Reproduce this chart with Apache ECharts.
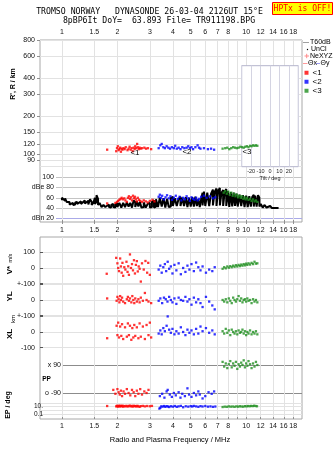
<!DOCTYPE html>
<html>
<head>
<meta charset="utf-8">
<script src="https://cdn.jsdelivr.net/npm/echarts@6/dist/echarts.min.js"></script>
<style>
html,body{margin:0;padding:0;background:#fff;}
#chart{width:335px;height:451px;}
</style>
</head>
<body>
<div id="chart"></div>
<script>
// ---- axis ticks ----
const freqTicks = [1, 1.5, 2, 3, 4, 5, 6, 7, 8, 9, 10, 12, 14, 16, 18];
const freqLabelsOuter = [1, 1.5, 2, 3, 4, 5, 6, 7, 8, 10, 12, 14, 16, 18];
const freqLabelsMid = [1, 1.5, 2, 3, 4, 5, 6, 7, 8, 9, 10, 12, 14, 16, 18];
const rangeTicks = [80, 90, 100, 120, 150, 200, 300, 400, 600, 800];
const tiltLabels = [-20, -10, 0, 10, 20];

// ---- virtual range R' (km) per mode ----
const range1 = [[1.76,109],[1.97,106],[1.99,112],[2.01,116],[2.03,108],[2.05,110],[2.07,113],[2.09,105],[2.11,111],[2.13,109],[2.16,112],[2.19,110],[2.22,114],[2.27,108],[2.30,111],[2.33,115],[2.36,109],[2.39,112],[2.42,106],[2.45,113],[2.48,110],[2.50,116],[2.53,112],[2.56,121],[2.58,114],[2.61,110],[2.64,113],[2.67,111],[2.72,112],[2.80,113],[2.86,111],[2.93,112],[3.05,110]];
const range2 = [[3.35,112],[3.42,118],[3.48,121],[3.55,114],[3.62,112],[3.70,116],[3.78,113],[3.86,111],[3.95,114],[4.05,112],[4.12,117],[4.20,111],[4.30,113],[4.40,110],[4.50,114],[4.62,112],[4.75,113],[4.85,116],[4.95,112],[5.05,114],[5.15,110],[5.30,114],[5.45,118],[5.55,113],[5.65,111],[5.90,112],[6.20,110],[6.45,111],[6.70,109]];
const range3 = [[7.45,111],[7.70,112],[7.90,113],[8.10,110],[8.30,112],[8.50,114],[8.70,113],[8.90,112],[9.10,113],[9.30,115],[9.50,114],[9.70,113],[9.90,115],[10.1,116],[10.3,114],[10.5,117],[10.7,116],[10.9,118],[11.1,117],[11.3,118],[11.5,117]];

// ---- echo amplitude (dB): [f, low, high] envelope of all echoes ----
const ampTrace = [[1.00,55,60],[1.02,57,61],[1.04,54,59],[1.06,52,57],[1.08,50,55],[1.10,47,52],[1.12,45,48],
 [1.15,46,50],[1.18,47,51],[1.21,48,52],[1.24,47,50],[1.27,48,53],[1.30,47,51],[1.33,49,55],[1.36,48,52],[1.39,47,54],[1.42,50,57],[1.45,46,52],[1.48,45,50],
 [1.51,48,60],[1.54,52,65],[1.57,46,58],[1.60,43,50],
 [1.64,42,47],[1.68,41,46],[1.72,42,48],[1.76,41,45],[1.80,42,47],[1.85,41,46],[1.90,42,48],[1.95,41,47],[2.00,42,49],
 [2.05,42,50],[2.10,41,52],[2.15,43,50],[2.20,42,53],[2.25,41,51],[2.30,43,54],[2.35,42,50],[2.40,41,52],[2.45,43,55],[2.50,42,51],[2.55,41,53],[2.60,43,50],[2.65,42,52],[2.70,41,49],[2.78,42,51],[2.85,41,50],[2.92,42,48],[3.00,41,50],
 [3.08,42,52],[3.16,41,55],[3.24,43,57],[3.32,42,58],[3.40,41,60],[3.48,43,57],[3.56,42,59],[3.64,41,56],[3.72,43,58],[3.80,42,57],
 [3.90,43,60],[4.00,44,62],[4.10,43,59],[4.20,44,61],[4.30,42,58],[4.40,44,62],[4.50,43,60],[4.60,44,59],[4.70,43,61],[4.80,42,63],[4.90,44,60],[5.00,43,58],[5.10,44,61],[5.20,43,59],[5.30,42,62],[5.40,44,60],[5.50,43,57],[5.60,42,59],[5.70,43,58],
 [5.80,45,70],[5.90,46,72],[6.00,44,75],
 [6.15,43,70],[6.30,44,73],[6.45,42,68],[6.60,45,76],[6.75,43,72],[6.90,44,78],[7.05,42,74],[7.20,45,79],[7.35,43,70],[7.50,44,75],[7.65,42,72],[7.80,44,77],[7.95,43,73],[8.10,42,76],[8.25,44,71],[8.40,43,74],[8.55,42,70],[8.70,44,72],[8.85,43,68],
 [9.00,43,70],[9.20,42,66],[9.40,44,68],[9.60,43,65],[9.80,42,67],[10.0,43,64],[10.2,42,66],[10.4,44,63],[10.6,43,65],[10.8,42,62],[11.0,43,66],[11.2,42,64],[11.4,43,62],[11.6,42,65],[11.8,43,60],
 [12.0,42,48],[12.3,41,45],[12.6,40,46],[12.9,41,43],[13.2,40,43],[13.5,41,44],[13.8,40,42],[14.1,40,43],[14.4,40,42],[14.7,40,42],[15.0,40,41]];
const amp1 = [[1.76,49],[1.95,50],[1.99,52],[2.02,54],[2.05,56],[2.08,58],[2.11,60],[2.14,57],[2.18,59],[2.21,55],[2.25,52],[2.28,60],[2.31,63],[2.34,58],[2.37,61],[2.40,55],[2.43,64],[2.46,59],[2.49,62],[2.52,57],[2.55,53],[2.58,60],[2.62,56],[2.66,54],[2.72,52],[2.78,55],[2.85,53],[2.92,51],[3.00,54],[3.10,56],[3.18,53]];
const amp2 = [[3.35,62],[3.40,66],[3.45,60],[3.50,64],[3.58,57],[3.65,61],[3.72,65],[3.80,59],[3.88,63],[3.96,56],[4.05,60],[4.15,64],[4.25,58],[4.35,62],[4.45,55],[4.55,60],[4.65,57],[4.75,63],[4.85,59],[4.95,54],[5.05,61],[5.15,58],[5.25,56],[5.35,60],[5.45,55],[5.55,58],[5.70,62],[5.90,64],[6.10,60],[6.35,63],[6.60,59],[6.80,61]];
const amp3 = [[7.55,70],[7.70,73],[7.85,68],[8.00,72],[8.15,66],[8.30,70],[8.45,64],[8.60,68],[8.75,63],[8.90,66],[9.05,61],[9.20,64],[9.35,60],[9.50,63],[9.65,58],[9.80,61],[9.95,57],[10.1,60],[10.3,56],[10.5,58],[10.7,54],[10.9,57],[11.1,53],[11.3,55],[11.5,52]];

// ---- Doppler velocity V* (m/s) ----
const vel1 = [[1.75,-37],[1.97,65],[2.00,30],[2.02,0],[2.04,-20],[2.07,61],[2.09,10],[2.11,-30],[2.13,33],[2.15,-50],[2.18,5],[2.21,-10],[2.24,40],[2.27,-25],[2.29,11],[2.31,-44],[2.34,87],[2.37,0],[2.40,25],[2.43,-15],[2.46,50],[2.49,-35],[2.52,20],[2.55,44],[2.58,-22],[2.61,10],[2.64,-5],[2.68,-87],[2.72,30],[2.78,-10],[2.84,45],[2.90,-30],[2.94,33],[3.00,-44]];
const vel2 = [[3.35,-10],[3.42,15],[3.48,-30],[3.55,5],[3.62,25],[3.68,-20],[3.75,40],[3.82,-5],[3.90,10],[3.98,-35],[4.08,20],[4.18,-15],[4.30,30],[4.42,-40],[4.55,0],[4.68,-25],[4.80,15],[4.92,-10],[5.05,25],[5.20,-20],[5.35,35],[5.50,5],[5.65,-15],[5.80,10],[6.05,-30],[6.30,-10],[6.55,-20],[6.75,5]];
const vel3 = [[7.45,-5],[7.60,5],[7.75,-2],[7.90,10],[8.05,2],[8.20,12],[8.35,5],[8.50,15],[8.65,8],[8.80,18],[8.95,10],[9.10,20],[9.25,12],[9.40,22],[9.55,15],[9.70,25],[9.85,17],[10.0,28],[10.15,20],[10.3,30],[10.5,22],[10.7,33],[10.9,25],[11.1,40],[11.3,28],[11.5,30]];

// ---- echo location YL, XL (km) ----
const yl1 = [[1.76,10],[1.98,-5],[2.00,20],[2.03,5],[2.05,-15],[2.07,25],[2.09,0],[2.12,15],[2.15,-10],[2.20,-20],[2.25,5],[2.28,20],[2.31,-5],[2.34,10],[2.38,-15],[2.41,25],[2.44,0],[2.47,-20],[2.50,10],[2.55,-10],[2.60,5],[2.64,-15],[2.68,15],[2.75,-5],[2.82,45],[2.88,0],[2.95,-10],[3.05,-20]];
const yl2 = [[3.35,-5],[3.42,10],[3.50,-20],[3.58,15],[3.66,5],[3.74,-10],[3.82,20],[3.90,0],[3.98,-15],[4.08,10],[4.18,-25],[4.30,15],[4.42,0],[4.55,-5],[4.68,20],[4.80,-10],[4.92,5],[5.05,-30],[5.20,15],[5.35,-15],[5.50,5],[5.65,-20],[5.80,-45],[6.05,20],[6.30,-10],[6.55,-35],[6.75,-60]];
const yl3 = [[7.45,0],[7.60,-10],[7.75,5],[7.90,-15],[8.05,10],[8.20,-5],[8.35,-20],[8.50,15],[8.65,0],[8.80,-10],[8.95,5],[9.10,25],[9.25,-5],[9.40,10],[9.55,-15],[9.70,0],[9.85,5],[10.0,-10],[10.15,10],[10.3,-5],[10.5,0],[10.7,-20],[10.9,5],[11.1,-10],[11.3,0],[11.5,-15]];
const xl1 = [[1.76,-40],[1.98,40],[2.00,-20],[2.02,60],[2.04,-35],[2.07,35],[2.10,-25],[2.12,50],[2.15,-45],[2.20,30],[2.25,-30],[2.28,55],[2.31,-20],[2.34,40],[2.38,-50],[2.41,25],[2.44,-35],[2.47,45],[2.50,-25],[2.55,30],[2.60,-40],[2.64,55],[2.68,-30],[2.75,35],[2.82,-45],[2.88,45],[2.95,-20],[3.00,60],[3.05,-35]];
const xl2 = [[3.35,-10],[3.42,10],[3.48,-15],[3.55,25],[3.62,5],[3.70,40],[3.75,100],[3.82,15],[3.90,-5],[3.98,20],[4.08,-15],[4.18,5],[4.30,-10],[4.42,30],[4.55,0],[4.68,-20],[4.80,15],[4.92,-5],[5.05,10],[5.20,-15],[5.35,20],[5.50,-10],[5.65,35],[5.80,5],[6.05,25],[6.30,-5],[6.55,10],[6.75,-15]];
const xl3 = [[7.45,5],[7.60,-10],[7.75,20],[7.90,-5],[8.05,10],[8.20,-20],[8.35,15],[8.50,0],[8.65,-10],[8.80,5],[8.95,-15],[9.10,10],[9.25,-5],[9.40,0],[9.55,15],[9.70,-10],[9.85,5],[10.0,-20],[10.15,0],[10.3,-10],[10.5,10],[10.7,-15],[10.9,0],[11.1,-10],[11.3,5],[11.5,-15]];

// ---- polarization PP (deg) ----
const pp1 = [[1.90,-70],[1.95,-95],[2.00,-65],[2.03,-85],[2.06,-100],[2.09,-75],[2.12,-110],[2.16,-80],[2.20,-95],[2.25,-65],[2.30,-90],[2.35,-105],[2.40,-70],[2.45,-85],[2.50,-110],[2.55,-75],[2.60,-95],[2.66,-65],[2.72,-100],[2.80,-80],[2.88,-90],[2.95,-70]];
const pp2 = [[3.40,-110],[3.50,-95],[3.60,-120],[3.70,-80],[3.75,-70],[3.85,-100],[3.95,-115],[4.05,-90],[4.15,-105],[4.30,-85],[4.40,-120],[4.50,-95],[4.65,-110],[4.80,-60],[4.90,-100],[5.05,-115],[5.20,-90],[5.35,-105],[5.50,-80],[5.60,-100],[5.80,-125],[6.00,-110],[6.25,-85],[6.50,-95],[6.70,-80]];
const pp3 = [[7.45,110],[7.60,80],[7.75,100],[7.90,70],[8.05,95],[8.20,115],[8.35,75],[8.50,100],[8.65,85],[8.80,110],[8.95,65],[9.10,95],[9.25,80],[9.40,105],[9.55,90],[9.70,120],[9.85,75],[10.0,100],[10.15,85],[10.3,115],[10.5,95],[10.7,70],[10.9,100],[11.1,80],[11.3,110],[11.5,90]];

// ---- EP (deg) ----
const ep1 = [[1.76,15],[1.97,12],[1.99,18],[2.01,10],[2.03,14],[2.05,20],[2.07,11],[2.09,16],[2.11,13],[2.13,19],[2.15,10],[2.18,15],[2.21,12],[2.24,17],[2.27,11],[2.30,14],[2.33,20],[2.36,12],[2.39,16],[2.42,10],[2.45,18],[2.48,13],[2.51,15],[2.54,11],[2.57,17],[2.60,12],[2.64,9],[2.68,14],[2.75,16],[2.82,12],[2.90,15],[3.00,13],[3.08,16]];
const ep2 = [[3.38,3],[3.42,5],[3.46,12],[3.52,10],[3.58,15],[3.64,9],[3.70,14],[3.76,11],[3.82,8],[3.90,13],[4.00,10],[4.10,15],[4.20,9],[4.30,12],[4.42,16],[4.55,7],[4.70,13],[4.85,10],[5.00,14],[5.10,11],[5.20,16],[5.35,12],[5.50,9],[5.65,14],[5.80,11],[6.00,15],[6.20,10],[6.40,12],[6.60,9],[6.80,11]];
const ep3 = [[7.45,8],[7.65,10],[7.85,9],[8.05,12],[8.25,10],[8.45,11],[8.65,9],[8.85,12],[9.05,10],[9.25,13],[9.45,11],[9.65,10],[9.85,14],[10.05,12],[10.25,15],[10.45,13],[10.65,16],[10.85,14],[11.05,18],[11.25,15],[11.45,13]];

const modeNames = ['<1', '<2', '<3'];
const modeColors = ['#ff0000', '#0000ff', '#1f8f1f'];

// ---- styling ----
const F_MIN = 0.76, F_MAX = 20.1;
const LG = Math.log10;
const gridCol = '#e2e2e2';
const frameCol = '#a8a8a8';
const sans = '"Liberation Sans", Arial, sans-serif';
const mono = '"DejaVu Sans Mono", monospace';
const lbl = { fontFamily: sans, fontSize: 7, color: '#111' };

const freqText = v => String(Math.round(Math.pow(10, v) * 10) / 10);

const hiddenLogX = g => ({ type: 'log', gridIndex: g, min: F_MIN, max: F_MAX, show: false });
const hiddenVal = (g, extra) => Object.assign({ type: 'value', gridIndex: g, show: false }, extra || {});

const grid = [
  { left: 40, top: 40, width: 262, height: 182, show: true, borderColor: frameCol, borderWidth: 1 },     // 0 upper frame
  { left: 40, top: 40, width: 262, height: 126.7 },                                                       // 1 range lines
  { left: 40, top: 40, width: 262, height: 126.7 },                                                       // 2 range data
  { left: 241.7, top: 65.7, width: 56.6, height: 101, show: true, borderColor: '#b4b4cc', backgroundColor: '#fff', z: 1 }, // 3 tilt
  { left: 56, top: 177.3, width: 246, height: 41 },                                                       // 4 dB lines
  { left: 40, top: 177.3, width: 262, height: 41 },                                                       // 5 dB data
  { left: 40, top: 237, width: 262, height: 182, show: true, borderColor: frameCol, borderWidth: 1 },    // 6 lower frame
  { left: 40, top: 252.4, width: 262, height: 31.2 },                                                     // 7 V*
  { left: 40, top: 284.4, width: 262, height: 31.2 },                                                     // 8 YL
  { left: 40, top: 316.4, width: 262, height: 31.2 },                                                     // 9 XL
  { left: 62, top: 365, width: 240, height: 28 },                                                         // 10 PP lines
  { left: 40, top: 365, width: 262, height: 28 },                                                         // 11 PP data
  { left: 40, top: 403, width: 262, height: 11 }                                                          // 12 EP
];

const freqAxis = (g, pos, labels, withGrid, margin) => ({
  type: 'value', gridIndex: g, position: pos, min: LG(F_MIN), max: LG(F_MAX),
  axisLine: { show: false },
  axisTick: { show: true, inside: true, length: 2, customValues: freqTicks.map(LG), lineStyle: { color: '#909090' } },
  axisLabel: Object.assign({ customValues: labels.map(LG), formatter: freqText, margin: margin }, lbl),
  splitLine: { show: withGrid, lineStyle: { color: gridCol, width: 1 } }
});

const xAxis = [
  freqAxis(0, 'top', freqLabelsOuter, true, 4),     // 0
  freqAxis(0, 'bottom', freqLabelsMid, false, 5),   // 1
  hiddenVal(1, { min: 0, max: 1 }),                 // 2
  hiddenLogX(2),                                    // 3
  { type: 'value', gridIndex: 3, min: -30, max: 30, interval: 10, z: 2,
    axisLine: { show: false }, axisTick: { show: false },
    axisLabel: { formatter: v => (tiltLabels.indexOf(v) >= 0 ? String(v) : ''), margin: 1.5, fontFamily: sans, fontSize: 5.5, color: '#222' },
    splitLine: { show: true, lineStyle: { color: '#d4d4e2' } },
    name: 'Tilt / deg', nameLocation: 'middle', nameGap: 6.5, nameTextStyle: { fontFamily: sans, fontSize: 5.5, color: '#222' } }, // 4
  hiddenVal(4, { min: 0, max: 1 }),                 // 5
  hiddenLogX(5),                                    // 6
  freqAxis(6, 'bottom', freqLabelsOuter, true, 3.5),// 7
  hiddenLogX(7), hiddenLogX(8), hiddenLogX(9),      // 8,9,10
  hiddenVal(10, { min: 0, max: 1 }),                // 11
  hiddenLogX(11),                                   // 12
  hiddenLogX(12)                                    // 13
];

const compAxis = (g, labels) => ({
  type: 'value', gridIndex: g, min: -100, max: 100, interval: 100,
  axisLine: { show: false },
  axisTick: { show: true, inside: true, length: 3, lineStyle: { color: '#555' } },
  axisLabel: Object.assign({ formatter: v => (labels[v] !== undefined ? labels[v] : ''), margin: 5 }, lbl),
  splitLine: { show: true, lineStyle: { color: gridCol } }
});

const yAxis = [
  hiddenVal(0, { min: 0, max: 1 }),                 // 0
  { type: 'value', gridIndex: 1, min: LG(80), max: LG(800),
    axisLine: { show: false },
    axisTick: { show: true, length: 3, customValues: rangeTicks.map(LG), lineStyle: { color: '#909090' } },
    axisLabel: Object.assign({ customValues: rangeTicks.map(LG), formatter: v => String(Math.round(Math.pow(10, v))), margin: 5 }, lbl),
    splitLine: { show: true, lineStyle: { color: gridCol } } },           // 1
  { type: 'log', gridIndex: 2, min: 80, max: 800, show: false },          // 2
  hiddenVal(3, { min: 0, max: 1 }),                                       // 3
  { type: 'value', gridIndex: 4, min: 20, max: 100, interval: 20,
    axisLine: { show: false }, axisTick: { show: false },
    axisLabel: Object.assign({ formatter: v => (v === 20 ? 'dBn 20' : v === 80 ? 'dBe 80' : String(v)), margin: 2 }, lbl),
    splitLine: { show: true, lineStyle: { color: ['#aaaae8', '#c4c4c4', '#c4c4c4', '#c4c4c4', '#c4c4c4'] } } }, // 4
  hiddenVal(5, { min: 20, max: 100 }),                                    // 5
  hiddenVal(6, { min: 0, max: 1 }),                                       // 6
  compAxis(7, { '0': '0', '100': '100' }),                                // 7 V*
  compAxis(8, { '0': '0', '100': '+-100' }),                              // 8 YL
  compAxis(9, { '-100': '-100', '0': '0', '100': '+-100' }),              // 9 XL
  { type: 'value', gridIndex: 10, min: -90, max: 90, interval: 180,
    axisLine: { show: false }, axisTick: { show: false },
    axisLabel: Object.assign({ formatter: v => (v === 90 ? 'x 90' : v === -90 ? 'o -90' : ''), margin: 1 }, lbl),
    splitLine: { show: true, lineStyle: { color: '#8c8c8c' } } },         // 10
  hiddenVal(11, { min: -90, max: 90 }),                                   // 11
  { type: 'log', gridIndex: 12, min: 0.1, max: 100,
    axisLine: { show: false }, axisTick: { show: false },
    axisLabel: Object.assign({}, lbl, { fontSize: 6.5, margin: -3,
      formatter: v => (Math.abs(v - 10) < 0.01 ? '10.' : Math.abs(v - 0.1) < 0.001 ? '0.1' : '') }),
    splitLine: { show: true, lineStyle: { color: gridCol } } }            // 12
];

const series = [];
function addModes(xi, yi, sets, extra) {
  sets.forEach((data, i) => {
    series.push(Object.assign({
      type: 'scatter', name: modeNames[i], xAxisIndex: xi, yAxisIndex: yi, data: data,
      symbol: 'rect', symbolSize: 2.3, itemStyle: { color: modeColors[i] }, z: 4, silent: true
    }, extra || {}));
  });
}

// amplitude envelope as a dense zig-zag between low and high values
const ampLine = [];
ampTrace.forEach(([f, lo, hi], i) => {
  if (i % 2 === 0) { ampLine.push([f, lo], [f, hi]); } else { ampLine.push([f, hi], [f, lo]); }
});
series.push({ type: 'line', name: 'amp', xAxisIndex: 6, yAxisIndex: 5, data: ampLine, showSymbol: false, symbol: 'none',
  lineStyle: { color: '#000', width: 2 }, z: 3, silent: true });

addModes(3, 2, [range1, range2, range3]);
addModes(6, 5, [amp1, amp2, amp3]);
addModes(8, 7, [vel1, vel2, vel3]);
addModes(9, 8, [yl1, yl2, yl3]);
addModes(10, 9, [xl1, xl2, xl3]);
addModes(12, 11, [pp1, pp2, pp3], { clip: false });
addModes(13, 12, [ep1, ep2, ep3], { clip: false });

const txt = (x, y, text, font, extra) => Object.assign({
  type: 'text', x: x, y: y, silent: true, z: 10,
  style: { text: text, font: font, fill: '#000', align: 'center', verticalAlign: 'middle' }
}, extra || {});
const ltxt = (x, y, text, font) => txt(x, y, text, font, { style: { text: text, font: font, fill: '#000', align: 'left', verticalAlign: 'middle' } });
const vtxt = (x, y, text, font) => txt(x, y, text, font, { rotation: Math.PI / 2 });

const graphic = [
  txt(149.5, 12, 'TROMSO NORWAY   DYNASONDE 26-03-04 2126UT 15\u00B0E', '8.2px ' + mono),
  txt(159, 20.5, '8pBP6It DoY=  63.893 File= TR911198.BPG', '8.2px ' + mono),
  { type: 'rect', shape: { x: 272.5, y: 2.5, width: 60, height: 12 }, style: { fill: '#ffff00', stroke: '#ff0000', lineWidth: 1 }, z: 9 },
  txt(302.5, 8.8, 'HPTx is OFF!', '8px ' + mono, { style: { text: 'HPTx is OFF!', font: '8px ' + mono, fill: '#ff0000', align: 'center', verticalAlign: 'middle' } }),

  // side key
  { type: 'line', shape: { x1: 303, y1: 42.5, x2: 309, y2: 42.5 }, style: { stroke: '#a0a0a0', lineWidth: 1 }, z: 9 },
  ltxt(310, 42.5, 'T60dB', '7px ' + sans),
  { type: 'circle', shape: { cx: 307.5, cy: 49.5, r: 0.7 }, style: { fill: '#000' }, z: 9 },
  ltxt(311, 49.5, 'UnCl', '7px ' + sans),
  { type: 'line', shape: { x1: 304.5, y1: 56, x2: 309, y2: 56 }, style: { stroke: '#ff8a8a', lineWidth: 1 }, z: 9 },
  { type: 'line', shape: { x1: 306.7, y1: 53.8, x2: 306.7, y2: 58.2 }, style: { stroke: '#ff8a8a', lineWidth: 1 }, z: 9 },
  ltxt(310, 56, 'NeXYZ', '7px ' + sans),
  { type: 'line', shape: { x1: 303, y1: 63.5, x2: 307.5, y2: 63.5 }, style: { stroke: '#ff9a9a', lineWidth: 1 }, z: 9 },
  ltxt(308, 63.5, '\u0398x', '7px ' + sans),
  { type: 'line', shape: { x1: 316, y1: 63.5, x2: 320, y2: 63.5 }, style: { stroke: '#9a9aee', lineWidth: 1 }, z: 9 },
  ltxt(320.5, 63.5, '\u0398y', '7px ' + sans),

  // mode tags along the traces
  txt(135, 152.5, '<1', '8px ' + sans),
  txt(187, 152, '<2', '8px ' + sans),
  txt(247, 152, '<3', '8px ' + sans),

  // axis titles
  vtxt(13, 84, "R', R / km", 'bold 7px ' + sans),
  { type: 'text', x: 10, y: 264, rotation: Math.PI / 2, silent: true, z: 10,
    style: { text: '{a|V*} {b|m/s}', align: 'center', verticalAlign: 'middle',
      rich: { a: { font: 'bold 8px ' + sans, fill: '#000' }, b: { font: '5.5px ' + sans, fill: '#000' } } } },
  vtxt(10, 296.5, 'YL', 'bold 8px ' + sans),
  vtxt(13, 319, 'km', '6px ' + sans),
  vtxt(10, 334, 'XL', 'bold 8px ' + sans),
  vtxt(8, 405, 'EP / deg', 'bold 7px ' + sans),
  txt(46.5, 379.5, 'PP', 'bold 6.5px ' + sans),
  txt(170, 439.5, 'Radio and Plasma Frequency / MHz', '7.5px ' + sans)
];

const chart = echarts.init(document.getElementById('chart'), null, { renderer: 'canvas' });
chart.setOption({
  animation: false,
  backgroundColor: '#fff',
  grid: grid,
  xAxis: xAxis,
  yAxis: yAxis,
  legend: {
    data: modeNames, orient: 'vertical', left: 304.5, top: 68.5, padding: 0,
    itemWidth: 4, itemHeight: 4, itemGap: 0.5, icon: 'rect', selectedMode: false,
    textStyle: { fontFamily: sans, fontSize: 8, color: '#000', lineHeight: 8.5, padding: [0, 0, 0, -1] }
  },
  series: series,
  graphic: graphic
});
</script>
</body>
</html>
